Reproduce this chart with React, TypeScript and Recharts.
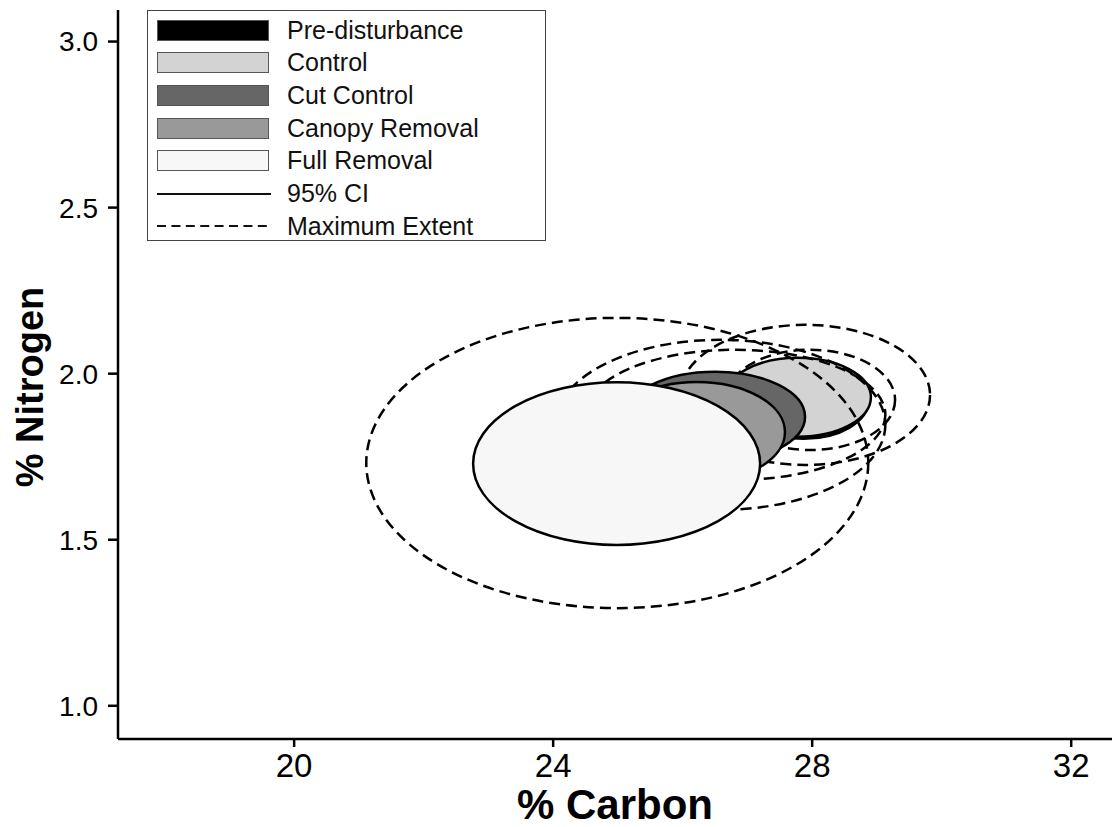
import { ComposedChart, XAxis, YAxis, ReferenceArea, Scatter } from "recharts"

// treatments, in draw order of the legend
const TREATMENTS = ["Pre-disturbance", "Control", "Cut Control", "Canopy Removal", "Full Removal"]
const FILLS = ["#000000", "#d3d3d3", "#666666", "#999999", "#f7f7f7"]

// 95% CI ellipses (centre and half-widths, in % C / % N)
const CI_C = [27.87, 27.78, 26.5, 26.22, 24.98]
const CI_N = [1.919, 1.929, 1.87, 1.824, 1.729]
const CI_RC = [1.0, 1.127, 1.39, 1.36, 2.216]
const CI_RN = [0.115, 0.119, 0.136, 0.151, 0.245]

// maximum extent ellipses
const MAX_C = [27.97, 27.89, 26.58, 26.81, 24.99]
const MAX_N = [1.921, 1.936, 1.846, 1.876, 1.731]
const MAX_RC = [1.31, 1.93, 2.55, 2.32, 3.876]
const MAX_RN = [0.151, 0.211, 0.256, 0.196, 0.437]

const X_TICKS = [20, 24, 28, 32]
const Y_TICKS = [1.0, 1.5, 2.0, 2.5, 3.0]

const FONT = "'Liberation Sans', Arial, Helvetica, sans-serif"

const centres = CI_C.map((c, i) => ({ c, n: CI_N[i] }))

const ellipseShape = (fill: string, dashed: boolean) => (props: any) => {
  const { x, y, width, height } = props
  if (x == null || width == null) return null
  return (
    <ellipse
      cx={x + width / 2}
      cy={y + height / 2}
      rx={Math.abs(width) / 2}
      ry={Math.abs(height) / 2}
      fill={fill}
      stroke="#000"
      strokeWidth={2.5}
      strokeDasharray={dashed ? "11 6" : undefined}
    />
  )
}

const ciArea = (i: number) => (
  <ReferenceArea
    key={`ci-${i}`}
    x1={CI_C[i] - CI_RC[i]}
    x2={CI_C[i] + CI_RC[i]}
    y1={CI_N[i] - CI_RN[i]}
    y2={CI_N[i] + CI_RN[i]}
    ifOverflow="visible"
    shape={ellipseShape(FILLS[i], false)}
  />
)

const maxArea = (i: number) => (
  <ReferenceArea
    key={`max-${i}`}
    x1={MAX_C[i] - MAX_RC[i]}
    x2={MAX_C[i] + MAX_RC[i]}
    y1={MAX_N[i] - MAX_RN[i]}
    y2={MAX_N[i] + MAX_RN[i]}
    ifOverflow="visible"
    shape={ellipseShape("none", true)}
  />
)

function LegendBox() {
  const rowH = 32.7
  return (
    <div
      style={{
        position: "absolute",
        left: 147,
        top: 10,
        width: 399,
        height: 231,
        border: "1.5px solid #444",
        background: "#fff",
        fontFamily: FONT,
        fontSize: 25,
        color: "#111",
        boxSizing: "border-box",
      }}
    >
      {TREATMENTS.map((t, i) => (
        <div key={t} style={{ position: "absolute", left: 9, top: 7 + i * rowH, height: 24, display: "flex", alignItems: "center" }}>
          <div style={{ width: 112, height: 21, background: FILLS[i], border: "1.5px solid #555", boxSizing: "border-box" }} />
          <span style={{ marginLeft: 18 }}>{t}</span>
        </div>
      ))}
      {["95% CI", "Maximum Extent"].map((t, j) => (
        <div key={t} style={{ position: "absolute", left: 9, top: 7 + (5 + j) * rowH, height: 24, display: "flex", alignItems: "center" }}>
          <svg width={114} height={4}>
            <line x1={0} x2={114} y1={2} y2={2} stroke="#111" strokeWidth={2} strokeDasharray={j === 1 ? "9 5.4" : undefined} />
          </svg>
          <span style={{ marginLeft: 16 }}>{t}</span>
        </div>
      ))}
    </div>
  )
}

const xTitle = () => (
  <text x={615} y={819} textAnchor="middle" fill="#000" fontSize={42} fontWeight={700} fontFamily={FONT}>
    % Carbon
  </text>
)

const yTitle = () => (
  <text
    x={0}
    y={0}
    transform="translate(43 387) rotate(-90)"
    textAnchor="middle"
    fill="#000"
    fontSize={38}
    fontWeight={700}
    fontFamily={FONT}
  >
    % Nitrogen
  </text>
)

export default function App() {
  return (
    <div style={{ position: "absolute", left: 0, top: 0, width: 1114, height: 827, background: "#fff" }}>
      <ComposedChart width={1114} height={827} data={centres} margin={{ top: 10, right: 2, left: 0, bottom: 0 }}>
        <XAxis
          dataKey="c"
          type="number"
          domain={[17.28, 32.63]}
          allowDataOverflow
          ticks={X_TICKS}
          interval={0}
          height={88}
          stroke="#000"
          strokeWidth={2.5}
          tickSize={8}
          tickMargin={7}
          tick={{ fill: "#000", fontSize: 33, fontFamily: FONT }}
          label={xTitle}
        />
        <YAxis
          dataKey="n"
          type="number"
          domain={[0.9, 3.095]}
          allowDataOverflow
          ticks={Y_TICKS}
          interval={0}
          width={118}
          stroke="#000"
          strokeWidth={2.5}
          tickSize={10}
          tickMargin={10}
          tickFormatter={(v: number) => v.toFixed(1)}
          tick={{ fill: "#000", fontSize: 28, fontFamily: FONT }}
          label={yTitle}
        />
        <Scatter dataKey="n" isAnimationActive={false} shape={() => null} />
        {ciArea(0)}
        {ciArea(1)}
        {[0, 1, 2, 3, 4].map((i) => maxArea(i))}
        {ciArea(2)}
        {ciArea(3)}
        {ciArea(4)}
      </ComposedChart>
      <LegendBox />
    </div>
  )
}
